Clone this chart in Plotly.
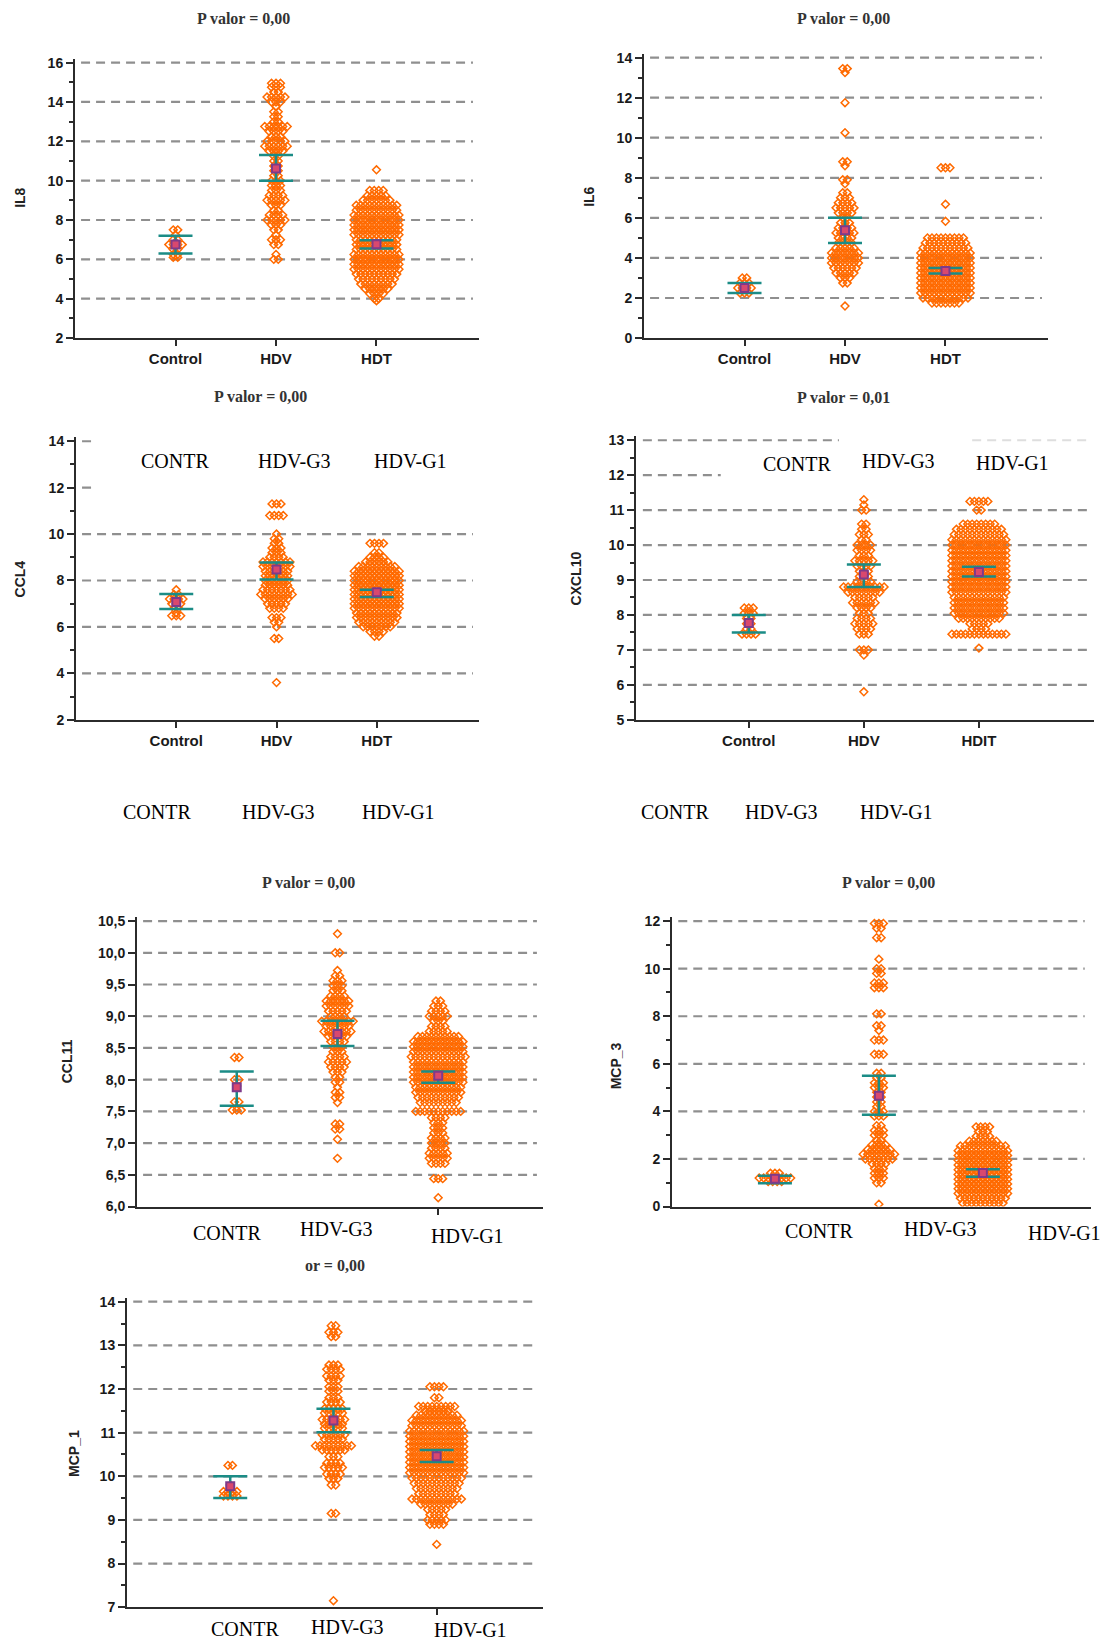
import plotly.graph_objects as go

W, H = 1107, 1643

ORANGE = "#FF6A00"
TEAL = "#1B8C86"
MEAN_FILL = "#D9486E"
MEAN_EDGE = "#7E3A8A"
AXIS = "#2b2b2b"
GRID = "#8f8f8f"

GROUP_POS = [1, 2, 3]

# ---------------- IL8 ----------------
IL8_CONTROL_Y = [7.5, 7.25, 7.0, 6.75, 6.5, 6.25, 6.1]
IL8_CONTROL_N = [2, 1, 2, 4, 2, 2, 2]
IL8_HDV_Y = [14.95, 14.75, 14.5, 14.25, 14.0, 13.75, 13.5, 13.25, 13.0, 12.75, 12.5, 12.25,
             12.0, 11.75, 11.5, 11.25, 11.0, 10.75, 10.5, 10.25, 10.0, 9.75, 9.5, 9.25, 9.0,
             8.75, 8.5, 8.25, 8.0, 7.75, 7.5, 7.25, 7.0, 6.75, 6.25, 6.0]
IL8_HDV_N = [3, 3, 2, 5, 3, 1, 2, 2, 2, 6, 4, 3, 5, 6, 4, 2, 2, 2, 2, 2, 3, 3, 3, 4, 5,
             3, 2, 4, 5, 3, 2, 1, 3, 2, 1, 2]
IL8_HDT_Y = [10.55, 9.5, 9.25, 9.0, 8.75, 8.5, 8.25, 8.0, 7.75, 7.5, 7.25, 7.0, 6.75, 6.5,
             6.25, 6.0, 5.75, 5.5, 5.25, 5.0, 4.75, 4.5, 4.25, 4.0, 3.9]
IL8_HDT_N = [1, 4, 5, 7, 10, 10, 11, 11, 11, 11, 11, 10, 10, 10, 11, 11, 11, 11, 10, 9, 8,
             6, 4, 2, 1]
IL8_MEAN = [6.75, 10.62, 6.77]
IL8_LO = [6.30, 10.00, 6.55]
IL8_HI = [7.20, 11.30, 6.97]

# ---------------- IL6 ----------------
IL6_CONTROL_Y = [3.0, 2.75, 2.5, 2.25]
IL6_CONTROL_N = [2, 3, 4, 3]
IL6_HDV_Y = [13.45, 13.25, 11.75, 10.25, 8.8, 8.6, 7.9, 7.7, 7.25, 7.0, 6.75, 6.5, 6.25, 6.0,
             5.75, 5.5, 5.25, 5.0, 4.75, 4.5, 4.25, 4.0, 3.75, 3.5, 3.25, 3.0, 2.75, 1.6]
IL6_HDV_N = [2, 1, 1, 1, 2, 1, 2, 1, 2, 3, 4, 5, 4, 2, 3, 4, 5, 4, 4, 5, 7, 7, 7, 6, 5, 3,
             2, 1]
IL6_HDT_Y = [8.5, 6.68, 5.83, 5.0, 4.75, 4.5, 4.25, 4.0, 3.75, 3.5, 3.25, 3.0, 2.75, 2.5,
             2.25, 2.0, 1.75]
IL6_HDT_N = [3, 1, 1, 9, 10, 11, 12, 12, 12, 12, 12, 12, 12, 12, 12, 11, 7]
IL6_MEAN = [2.50, 5.38, 3.35]
IL6_LO = [2.25, 4.75, 3.22]
IL6_HI = [2.75, 6.00, 3.50]

# ---------------- CCL4 ----------------
CCL4_CONTROL_Y = [7.6, 7.4, 7.2, 7.0, 6.8, 6.6, 6.48]
CCL4_CONTROL_N = [1, 2, 4, 3, 2, 1, 3]
CCL4_HDV_Y = [11.3, 10.8, 10.0, 9.8, 9.6, 9.4, 9.2, 9.0, 8.8, 8.6, 8.4, 8.2, 8.0, 7.8, 7.6,
              7.4, 7.2, 7.0, 6.8, 6.4, 6.2, 6.0, 5.5, 3.6]
CCL4_HDV_N = [3, 4, 1, 2, 2, 3, 3, 4, 7, 7, 6, 6, 6, 6, 7, 8, 6, 5, 4, 3, 2, 1, 2, 1]
CCL4_HDT_Y = [9.6, 9.2, 9.0, 8.8, 8.6, 8.4, 8.2, 8.0, 7.8, 7.6, 7.4, 7.2, 7.0, 6.8, 6.6, 6.4,
              6.2, 6.0, 5.8, 5.6]
CCL4_HDT_N = [4, 2, 4, 6, 9, 11, 11, 11, 11, 11, 11, 11, 11, 11, 10, 10, 9, 7, 4, 2]
CCL4_MEAN = [7.07, 8.47, 7.49]
CCL4_LO = [6.77, 8.04, 7.29]
CCL4_HI = [7.42, 8.78, 7.60]

# ---------------- CXCL10 ----------------
CXCL10_CONTROL_Y = [8.2, 8.05, 7.9, 7.75, 7.6, 7.45]
CXCL10_CONTROL_N = [3, 3, 2, 2, 2, 4]
CXCL10_HDV_Y = [11.3, 11.15, 11.0, 10.6, 10.45, 10.3, 10.15, 10.0, 9.85, 9.7, 9.55, 9.4,
                9.25, 9.1, 8.95, 8.8, 8.65, 8.5, 8.35, 8.2, 8.05, 7.9, 7.75, 7.6, 7.45, 7.0,
                6.85, 5.8]
CXCL10_HDV_N = [1, 1, 2, 2, 2, 3, 2, 4, 4, 3, 5, 4, 3, 3, 4, 10, 8, 5, 6, 4, 3, 4, 5, 4,
                3, 3, 1, 1]
CXCL10_HDT_Y = [11.25, 11.0, 10.6, 10.45, 10.3, 10.15, 10.0, 9.85, 9.7, 9.55, 9.4, 9.25,
                9.1, 8.95, 8.8, 8.65, 8.5, 8.35, 8.2, 8.05, 7.9, 7.75, 7.6, 7.45, 7.05]
CXCL10_HDT_N = [5, 2, 8, 11, 12, 13, 13, 13, 13, 13, 13, 13, 13, 13, 13, 13, 12, 12, 12,
                12, 10, 5, 4, 13, 1]
CXCL10_MEAN = [7.77, 9.16, 9.23]
CXCL10_LO = [7.50, 8.80, 9.10]
CXCL10_HI = [8.00, 9.44, 9.38]

# ---------------- CCL11 ----------------
CCL11_CONTROL_Y = [8.35, 8.0, 7.9, 7.65, 7.52]
CCL11_CONTROL_N = [2, 2, 1, 2, 3]
CCL11_HDV_Y = [10.3, 10.0, 9.72, 9.64, 9.56, 9.48, 9.4, 9.32, 9.24, 9.16, 9.08, 9.0, 8.92,
               8.84, 8.76, 8.68, 8.6, 8.52, 8.44, 8.36, 8.28, 8.2, 8.12, 8.04, 7.96, 7.88,
               7.8, 7.72, 7.64, 7.3, 7.22, 7.06, 6.76]
CCL11_HDV_N = [1, 2, 1, 2, 3, 3, 3, 4, 6, 6, 5, 4, 8, 6, 7, 5, 4, 3, 3, 4, 5, 4, 3, 2, 2,
               1, 2, 2, 1, 2, 2, 1, 1]
CCL11_HDT_Y = [9.24, 9.16, 9.08, 9.0, 8.92, 8.84, 8.76, 8.68, 8.6, 8.52, 8.44, 8.36, 8.28,
               8.2, 8.12, 8.04, 7.96, 7.88, 7.8, 7.72, 7.64, 7.5, 7.4, 7.32, 7.24, 7.16,
               7.08, 7.0, 6.92, 6.84, 6.76, 6.68, 6.44, 6.14]
CCL11_HDT_N = [2, 3, 4, 5, 3, 4, 5, 10, 12, 12, 12, 13, 12, 12, 12, 12, 12, 11, 11, 10, 9,
               11, 4, 3, 3, 3, 4, 4, 4, 5, 5, 4, 3, 1]
CCL11_MEAN = [7.88, 8.72, 8.06]
CCL11_LO = [7.59, 8.53, 7.95]
CCL11_HI = [8.13, 8.93, 8.13]

# ---------------- MCP_3 ----------------
MCP3_CONTROL_Y = [1.4, 1.2, 1.05]
MCP3_CONTROL_N = [3, 8, 4]
MCP3_HDV_Y = [11.9, 11.7, 11.3, 10.4, 10.0, 9.8, 9.4, 9.2, 8.1, 7.6, 7.4, 7.0, 6.4, 5.6, 5.4,
              5.2, 5.0, 4.8, 4.6, 4.4, 4.2, 4.0, 3.8, 3.4, 3.2, 3.0, 2.8, 2.6, 2.4, 2.2, 2.0,
              1.8, 1.6, 1.4, 1.2, 1.0, 0.1]
MCP3_HDV_N = [3, 2, 2, 1, 2, 2, 3, 3, 2, 2, 1, 3, 3, 2, 2, 3, 3, 2, 2, 2, 2, 3, 3, 2, 3, 3,
              2, 4, 6, 8, 7, 4, 3, 3, 3, 2, 1]
MCP3_HDT_Y = [3.35, 3.15, 2.95, 2.75, 2.55, 2.35, 2.15, 1.95, 1.75, 1.55, 1.35, 1.15, 0.95,
              0.75, 0.55, 0.35, 0.15]
MCP3_HDT_N = [4, 3, 4, 7, 11, 12, 12, 12, 12, 12, 12, 12, 12, 12, 12, 11, 10]
MCP3_MEAN = [1.17, 4.66, 1.41]
MCP3_LO = [0.98, 3.86, 1.25]
MCP3_HI = [1.29, 5.50, 1.57]

# ---------------- MCP_1 ----------------
MCP1_CONTROL_Y = [10.25, 9.8, 9.65, 9.55]
MCP1_CONTROL_N = [2, 1, 4, 4]
MCP1_HDV_Y = [13.45, 13.3, 13.2, 12.55, 12.45, 12.3, 12.2, 12.05, 11.95, 11.8, 11.7, 11.55,
              11.45, 11.3, 11.2, 11.1, 10.95, 10.85, 10.7, 10.6, 10.45, 10.3, 10.2, 10.05,
              9.95, 9.8, 9.15, 7.15]
MCP1_HDV_N = [2, 3, 2, 3, 4, 4, 3, 3, 3, 3, 4, 5, 5, 6, 5, 5, 6, 5, 9, 6, 3, 4, 5, 4, 3,
              2, 2, 1]
MCP1_HDT_Y = [12.05, 11.8, 11.6, 11.5, 11.4, 11.28, 11.16, 11.04, 10.92, 10.8, 10.68, 10.56,
              10.44, 10.32, 10.2, 10.08, 9.96, 9.84, 9.72, 9.6, 9.48, 9.36, 9.24, 9.12, 9.0,
              8.9, 8.44]
MCP1_HDT_N = [4, 2, 9, 6, 10, 12, 12, 13, 13, 13, 13, 13, 13, 13, 13, 13, 12, 11, 10, 9, 12,
              8, 5, 4, 5, 4, 1]
MCP1_MEAN = [9.77, 11.28, 10.46]
MCP1_LO = [9.50, 11.01, 10.33]
MCP1_HI = [10.00, 11.55, 10.60]

XLABELS_A = ["Control", "HDV", "HDT"]
XLABELS_B = ["Control", "HDV", "HDIT"]
GROUP_NAMES = ["CONTR", "HDV-G3", "HDV-G1"]

FULL = [(0.015, 0.985, GRID)]

PANELS = [
    dict(title="P valor = 0,00", title_xy=(243, 20), ylabel="IL8", ylabel_xy=(20, 199),
         xdom=(75, 479), ydom=(64, 339), xrange=(0, 4.02), yrange=(2, 16), dtick=2, minor=1,
         xticks=XLABELS_A, xtickvals=[1, 2, 3], fmt="d",
         groups=[(IL8_CONTROL_Y, IL8_CONTROL_N), (IL8_HDV_Y, IL8_HDV_N), (IL8_HDT_Y, IL8_HDT_N)],
         stats=(IL8_MEAN, IL8_LO, IL8_HI), grid={}),
    dict(title="P valor = 0,00", title_xy=(843, 20), ylabel="IL6", ylabel_xy=(589, 198),
         xdom=(644, 1048), ydom=(59, 339), xrange=(0, 4.02), yrange=(0, 14), dtick=2, minor=1,
         xticks=XLABELS_A, xtickvals=[1, 2, 3], fmt="d",
         groups=[(IL6_CONTROL_Y, IL6_CONTROL_N), (IL6_HDV_Y, IL6_HDV_N), (IL6_HDT_Y, IL6_HDT_N)],
         stats=(IL6_MEAN, IL6_LO, IL6_HI), grid={}),
    dict(title="P valor = 0,00", title_xy=(260, 397), ylabel="CCL4", ylabel_xy=(20, 580),
         xdom=(76, 479), ydom=(442, 720), xrange=(0, 4.02), yrange=(2, 14), dtick=2, minor=1,
         xticks=XLABELS_A, xtickvals=[1, 2, 3], fmt="d",
         groups=[(CCL4_CONTROL_Y, CCL4_CONTROL_N), (CCL4_HDV_Y, CCL4_HDV_N), (CCL4_HDT_Y, CCL4_HDT_N)],
         stats=(CCL4_MEAN, CCL4_LO, CCL4_HI),
         grid={14: [(0.015, 0.052, GRID)], 12: [(0.015, 0.052, GRID)]}),
    dict(title="P valor = 0,01", title_xy=(843, 398), ylabel="CXCL10", ylabel_xy=(576, 579),
         xdom=(636, 1094), ydom=(441, 720), xrange=(0.02, 4.0), yrange=(5, 13), dtick=1, minor=0.5,
         xticks=XLABELS_B, xtickvals=[1, 2, 3], fmt="d",
         groups=[(CXCL10_CONTROL_Y, CXCL10_CONTROL_N), (CXCL10_HDV_Y, CXCL10_HDV_N),
                 (CXCL10_HDT_Y, CXCL10_HDT_N)],
         stats=(CXCL10_MEAN, CXCL10_LO, CXCL10_HI),
         grid={13: [(0.015, 0.443, GRID), (0.734, 0.985, "#dedede")], 12: [(0.015, 0.185, GRID)]}),
    dict(title="P valor = 0,00", title_xy=(308, 882), ylabel="CCL11", ylabel_xy=(67, 1061),
         xdom=(137, 543), ydom=(921, 1206), xrange=(0.01, 4.04), yrange=(6, 10.5), dtick=0.5, minor=None,
         xticks=["", "", ""], xtickvals=[3], fmt=".1f",
         groups=[(CCL11_CONTROL_Y, CCL11_CONTROL_N), (CCL11_HDV_Y, CCL11_HDV_N),
                 (CCL11_HDT_Y, CCL11_HDT_N)],
         stats=(CCL11_MEAN, CCL11_LO, CCL11_HI), grid={}),
    dict(title="P valor = 0,00", title_xy=(888, 882), ylabel="MCP_3", ylabel_xy=(616, 1066),
         xdom=(672, 1091), ydom=(921, 1206), xrange=(0.01, 4.04), yrange=(0, 12), dtick=2, minor=1,
         xticks=["", "", ""], xtickvals=[], fmt="d",
         groups=[(MCP3_CONTROL_Y, MCP3_CONTROL_N), (MCP3_HDV_Y, MCP3_HDV_N), (MCP3_HDT_Y, MCP3_HDT_N)],
         stats=(MCP3_MEAN, MCP3_LO, MCP3_HI), grid={}),
    dict(title="or = 0,00", title_xy=(335, 1265), ylabel="MCP_1", ylabel_xy=(74, 1453),
         xdom=(127, 543), ydom=(1301, 1606), xrange=(0, 4.03), yrange=(7, 14), dtick=1, minor=0.5,
         xticks=["", "", ""], xtickvals=[3], fmt="d",
         groups=[(MCP1_CONTROL_Y, MCP1_CONTROL_N), (MCP1_HDV_Y, MCP1_HDV_N), (MCP1_HDT_Y, MCP1_HDT_N)],
         stats=(MCP1_MEAN, MCP1_LO, MCP1_HI), grid={}),
]

# serif group captions (centre x, centre y in page pixels)
CAPTIONS = [
    [(175, 462), (294, 462), (410, 462)],
    [(797, 465), (898, 462), (1013, 464)],
    [(157, 812), (278, 812), (398, 812)],
    [(675, 812), (781, 812), (896, 812)],
    [(227, 1232), (337, 1228), (467, 1235)],
    [(819, 1230), (940, 1228), (1064, 1232)],
    [(245, 1628), (347, 1626), (470, 1629)],
]

MARKER_STEP_PX = 4.5
AXIS_HEADROOM_PX = 4   # y axis line runs a little past the top tick

# vertical page-pixel calibration used when converting to paper coordinates
V_OFFSET = 5.5
V_SCALE = 0.991


def fx(px):
    return px / W


def fy(py):
    return 1 - ((py - V_OFFSET) / V_SCALE) / H


def swarm(center, levels, counts, unit):
    xs, ys = [], []
    for v, n in zip(levels, counts):
        for k in range(n):
            xs.append(center + (k - (n - 1) / 2) * unit)
            ys.append(v)
    return xs, ys


fig = go.Figure()
layout = dict(width=W, height=H, margin=dict(l=0, r=0, t=0, b=0), autosize=False,
              paper_bgcolor="white", plot_bgcolor="white", showlegend=False,
              separators=",.", shapes=[], annotations=[])

for i, p in enumerate(PANELS, start=1):
    sfx = "" if i == 1 else str(i)
    xref, yref = "x" + sfx, "y" + sfx
    px_per_unit = (p["xdom"][1] - p["xdom"][0]) / (p["xrange"][1] - p["xrange"][0])
    unit = MARKER_STEP_PX / px_per_unit

    for pos, (lv, cnt) in zip(GROUP_POS, p["groups"]):
        xs, ys = swarm(pos, lv, cnt, unit)
        fig.add_trace(go.Scatter(
            x=xs, y=ys, mode="markers", xaxis=xref, yaxis=yref, hoverinfo="skip",
            marker=dict(symbol="diamond-open", size=6, color=ORANGE, line=dict(width=1.5, color=ORANGE)),
        ))

    mean, lo, hi = p["stats"]
    fig.add_trace(go.Scatter(
        x=GROUP_POS, y=mean, mode="markers", xaxis=xref, yaxis=yref,
        marker=dict(symbol="square", size=8, color=MEAN_FILL, line=dict(width=2, color=MEAN_EDGE)),
        error_y=dict(type="data", symmetric=False,
                     array=[h - m for h, m in zip(hi, mean)],
                     arrayminus=[m - l for m, l in zip(mean, lo)],
                     color=TEAL, thickness=2.5, width=17),
    ))

    ylo, yhi = p["yrange"]
    y_top_px, y_bot_px = p["ydom"]
    y_px_per_unit = (y_bot_px - y_top_px) / (yhi - ylo)
    y_top_ext = yhi + AXIS_HEADROOM_PX / y_px_per_unit

    tickfont = dict(family="Liberation Sans", size=14, color="#1a1a1a", weight="bold")
    yax = dict(domain=[fy(y_bot_px), fy(y_top_px - AXIS_HEADROOM_PX)], range=[ylo, y_top_ext],
               anchor=xref, tickmode="linear", tick0=ylo, dtick=p["dtick"], ticks="outside",
               ticklen=7, tickwidth=2, tickcolor=AXIS, showline=True, linewidth=2,
               linecolor=AXIS, showgrid=False, zeroline=False, tickfont=tickfont)
    if p["fmt"] != "d":
        yax["tickformat"] = p["fmt"]
    if p["minor"]:
        yax["minor"] = dict(dtick=p["minor"], tick0=ylo, ticks="outside", ticklen=4,
                            tickwidth=1.5, tickcolor=AXIS, showgrid=False)
    xax = dict(domain=[fx(p["xdom"][0]), fx(p["xdom"][1])], range=list(p["xrange"]), anchor=yref,
               tickmode="array", tickvals=p["xtickvals"],
               ticktext=[p["xticks"][v - 1] for v in p["xtickvals"]],
               ticks="outside", ticklen=6, tickwidth=2, tickcolor=AXIS,
               showline=True, linewidth=2, linecolor=AXIS, showgrid=False, zeroline=False,
               tickfont=dict(family="Liberation Sans", size=15, color="#1a1a1a", weight="bold"))
    layout["xaxis" + sfx] = xax
    layout["yaxis" + sfx] = yax

    # dashed horizontal guides at the major tick values
    n_steps = int(round((yhi - ylo) / p["dtick"]))
    for k in range(1, n_steps + 1):
        val = round(ylo + k * p["dtick"], 4)
        segs = p["grid"].get(val, FULL)
        for x0, x1, col in segs:
            layout["shapes"].append(dict(
                type="line", xref=xref + " domain", yref=yref, x0=x0, x1=x1, y0=val, y1=val,
                line=dict(color=col, width=2.2, dash="9px,6px"), layer="below"))

    tx, ty = p["title_xy"]
    layout["annotations"].append(dict(
        text=p["title"], x=fx(tx), y=fy(ty), xref="paper", yref="paper", showarrow=False,
        xanchor="center", yanchor="middle",
        font=dict(family="Liberation Serif", size=16, color="#333333", weight="bold")))
    lx, ly = p["ylabel_xy"]
    layout["annotations"].append(dict(
        text=p["ylabel"], x=fx(lx), y=fy(ly), xref="paper", yref="paper", showarrow=False,
        textangle=-90, xanchor="center", yanchor="middle",
        font=dict(family="Liberation Sans", size=14, color="#222222", weight="bold")))

for row in CAPTIONS:
    for name, (cx, cy) in zip(GROUP_NAMES, row):
        layout["annotations"].append(dict(
            text=name, x=fx(cx), y=fy(cy), xref="paper", yref="paper", showarrow=False,
            xanchor="center", yanchor="middle",
            font=dict(family="Liberation Serif", size=20, color="#000000")))

fig.update_layout(**layout)
fig.write_html("out.html")
